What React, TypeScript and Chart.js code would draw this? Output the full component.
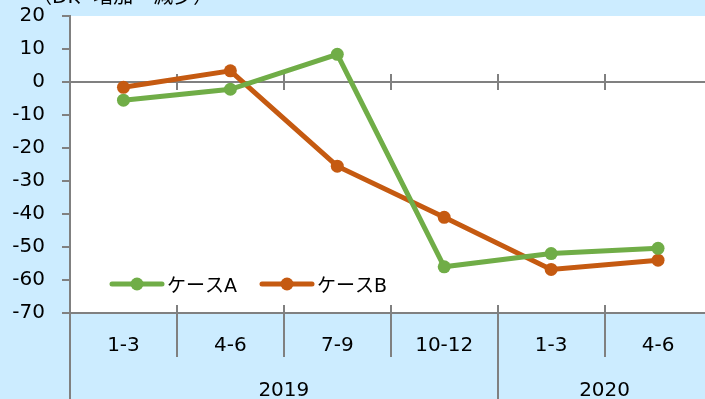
import { useEffect, useRef } from 'react';
import { Chart, registerables } from 'chart.js';

Chart.register(...registerables);

// ---- data ----
const quarters = ['1-3', '4-6', '7-9', '10-12', '1-3', '4-6'];
const years = ['2019', '2020'];
const yearSpans = [4, 2];
const seriesNames = ['ケースA', 'ケースB'];
const caseA = [-5.5, -2.2, 8.4, -56, -52, -50.4];
const caseB = [-1.6, 3.4, -25.5, -41, -56.8, -54];
const yMin = -70;
const yMax = 20;
const yStep = 10;
const unitLabel = '（DI、増加ー減少）';

// ---- style ----
const AXIS = '#808080';
const GREEN = '#70AD47';
const ORANGE = '#C55A11';
const BG = '#CCECFF';
const FONT = '"DejaVu Sans", "Noto Sans CJK JP", sans-serif';
const colors = [GREEN, ORANGE];

function seg(ctx: CanvasRenderingContext2D, x1: number, y1: number, x2: number, y2: number) {
  ctx.beginPath();
  ctx.moveTo(x1, y1);
  ctx.lineTo(x2, y2);
  ctx.stroke();
}

const decor = {
  id: 'decor',
  beforeDraw(chart: any) {
    const { ctx, chartArea: a } = chart;
    ctx.save();
    ctx.fillStyle = '#ffffff';
    ctx.fillRect(a.left, a.top, a.right - a.left, a.bottom - a.top);
    ctx.restore();
  },
  beforeDatasetsDraw(chart: any) {
    const { ctx, chartArea: a, scales } = chart;
    const x = scales.x;
    const y = scales.y;
    const half = (x.getPixelForValue(1) - x.getPixelForValue(0)) / 2;
    const y0 = Math.round(y.getPixelForValue(0));
    ctx.save();
    ctx.strokeStyle = AXIS;
    ctx.lineWidth = 2;
    // zero line
    seg(ctx, a.left, y0, a.right, y0);
    // year boundaries
    const yearBounds: number[] = [];
    let acc = 0;
    yearSpans.forEach((s) => {
      acc += s;
      yearBounds.push(acc);
    });
    for (let i = 1; i < quarters.length; i++) {
      const bx = Math.round(x.getPixelForValue(i) - half);
      seg(ctx, bx, y0 - 8, bx, y0 + 8);
      const isYear = yearBounds.includes(i);
      seg(ctx, bx, a.bottom - 8, bx, isYear ? chart.height : a.bottom + 44);
    }
    // left axis extension
    seg(ctx, a.left, a.bottom, a.left, chart.height);
    // year labels
    ctx.fillStyle = '#000';
    ctx.font = `20px ${FONT}`;
    ctx.textAlign = 'center';
    ctx.textBaseline = 'middle';
    let start = 0;
    years.forEach((yr, k) => {
      const end = start + yearSpans[k] - 1;
      const l = x.getPixelForValue(start) - half;
      const r = x.getPixelForValue(end) + half;
      ctx.fillText(yr, (l + r) / 2, 391);
      start += yearSpans[k];
    });
    ctx.restore();
  },
  afterDatasetsDraw(chart: any) {
    const { ctx } = chart;
    ctx.save();
    // legend
    const lx = [112, 262];
    const ly = 284;
    ctx.font = `19px ${FONT}`;
    ctx.textAlign = 'left';
    ctx.textBaseline = 'middle';
    seriesNames.forEach((name, i) => {
      ctx.strokeStyle = colors[i];
      ctx.fillStyle = colors[i];
      ctx.lineWidth = 5;
      ctx.lineCap = 'round';
      seg(ctx, lx[i], ly, lx[i] + 50, ly);
      ctx.beginPath();
      ctx.arc(lx[i] + 25, ly, 6.5, 0, Math.PI * 2);
      ctx.fill();
      ctx.fillStyle = '#000';
      ctx.fillText(name, lx[i] + 55, ly + 3);
    });
    // unit label (cut off at top)
    ctx.font = `20px ${FONT}`;
    ctx.textBaseline = 'alphabetic';
    ctx.fillText(unitLabel, 32, 3);
    ctx.restore();
  },
};

export default function App() {
  const ref = useRef<HTMLCanvasElement | null>(null);
  useEffect(() => {
    if (!ref.current) return;
    const chart = new Chart(ref.current, {
      type: 'line',
      data: {
        labels: quarters,
        datasets: [caseA, caseB].map((d, i) => ({
          label: seriesNames[i],
          data: d,
          borderColor: colors[i],
          backgroundColor: colors[i],
          borderWidth: 5,
          pointRadius: 6.5,
          pointBorderWidth: 0,
          pointBackgroundColor: colors[i],
          tension: 0,
          fill: false,
        })),
      },
      options: {
        responsive: false,
        animation: false,
        devicePixelRatio: 1,
        layout: { padding: { top: 16, left: 0, right: 0, bottom: 0 } },
        plugins: { legend: { display: false }, tooltip: { enabled: false } },
        scales: {
          x: {
            type: 'category',
            offset: true,
            grid: { display: false, drawTicks: false },
            border: { display: true, color: AXIS, width: 2 },
            ticks: {
              color: '#000',
              font: { family: FONT, size: 20 },
              padding: 21,
              maxRotation: 0,
              autoSkip: false,
            },
            afterFit: (s: any) => {
              s.height = 86;
              s.paddingLeft = 0;
              s.paddingRight = 0;
            },
          },
          y: {
            min: yMin,
            max: yMax,
            grid: { display: true, drawOnChartArea: false, drawTicks: true, tickLength: 8, color: AXIS, lineWidth: 2 },
            border: { display: true, color: AXIS, width: 2 },
            ticks: {
              stepSize: yStep,
              color: '#000',
              font: { family: FONT, size: 20 },
              padding: 17,
            },
            afterFit: (s: any) => {
              s.width = 70;
              s.paddingTop = 0;
              s.paddingBottom = 0;
            },
          },
        },
      },
      plugins: [decor],
    } as any);
    return () => chart.destroy();
  }, []);
  return (
    <div
      style={{
        position: 'fixed',
        left: 0,
        top: 0,
        width: 705,
        height: 399,
        overflow: 'hidden',
        background: BG,
      }}
    >
      <canvas ref={ref} width={718} height={399} style={{ display: 'block', width: 718, height: 399 }} />
    </div>
  );
}
